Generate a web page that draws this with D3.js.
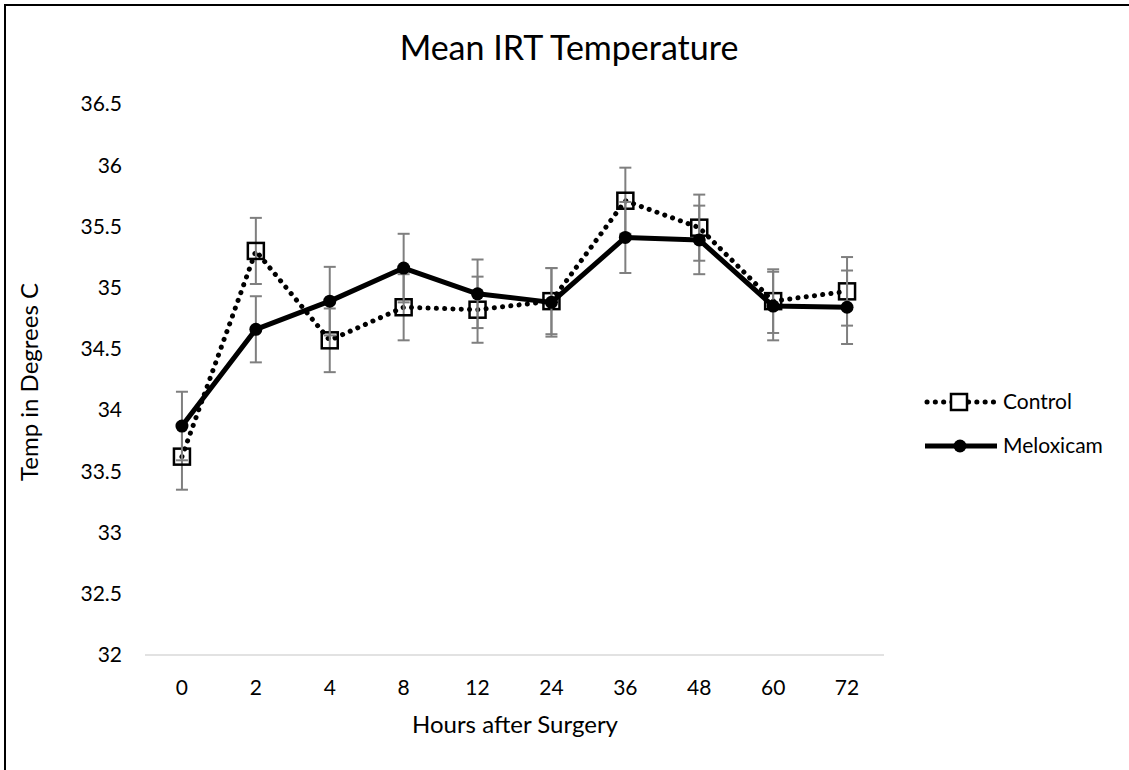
<!DOCTYPE html>
<html>
<head>
<meta charset="utf-8">
<script src="https://cdn.jsdelivr.net/npm/d3@7"></script>
<style>
  body { margin: 0; background: #fff; overflow: hidden; }
  svg { display: block; }
  text { font-family: Lato, "Open Sans", sans-serif; fill: #000; }
</style>
</head>
<body>
<svg id="chart" width="1129" height="770"></svg>
<script>
// hours after surgery (categories)
let hours = ["0", "2", "4", "8", "12", "24", "36", "48", "60", "72"];
let controlMean = [33.62, 35.30, 34.57, 34.84, 34.82, 34.89, 35.71, 35.49, 34.89, 34.97];
let controlErr  = [0.27, 0.27, 0.26, 0.27, 0.27, 0.27, 0.27, 0.27, 0.26, 0.28];
let meloxMean   = [33.87, 34.66, 34.89, 35.16, 34.95, 34.88, 35.41, 35.39, 34.85, 34.84];
let meloxErr    = [0.28, 0.27, 0.28, 0.28, 0.28, 0.28, 0.29, 0.28, 0.28, 0.30];
let yTicks = [32, 32.5, 33, 33.5, 34, 34.5, 35, 35.5, 36, 36.5];

let svg = d3.select("#chart");

// outer frame: only the left and top edges are inside the picture
svg.append("line")
    .attr("x1", 5).attr("x2", 1129)
    .attr("y1", 5).attr("y2", 5)
    .style("stroke", "#000")
    .style("stroke-width", 2);
svg.append("line")
    .attr("x1", 5).attr("x2", 5)
    .attr("y1", 4).attr("y2", 770)
    .style("stroke", "#000")
    .style("stroke-width", 2);

let x = d3.scaleBand()
    .domain(hours)
    .range([145, 884]);

let y = d3.scaleLinear()
    .domain([32, 36.5])
    .range([655, 104]);

// title
svg.append("text")
    .attr("x", 569).attr("y", 60)
    .attr("text-anchor", "middle")
    .style("font-size", "34px")
    .text("Mean IRT Temperature");

// y tick labels, no gridlines
svg.append("g").selectAll("text")
    .data(yTicks)
    .join("text")
    .attr("x", 122)
    .attr("y", d => y(d))
    .attr("dy", "0.35em")
    .attr("text-anchor", "end")
    .style("font-size", "21px")
    .text(d => d);

// x axis baseline
svg.append("line")
    .attr("x1", x.range()[0]).attr("x2", x.range()[1])
    .attr("y1", y(32)).attr("y2", y(32))
    .style("stroke", "#d9d9d9")
    .style("stroke-width", 1.5);

svg.append("g").selectAll("text")
    .data(hours)
    .join("text")
    .attr("x", d => x(d) + x.bandwidth() / 2)
    .attr("y", 695)
    .attr("text-anchor", "middle")
    .style("font-size", "21px")
    .text(d => d);

// axis titles
svg.append("text")
    .attr("x", 515).attr("y", 733)
    .attr("text-anchor", "middle")
    .style("font-size", "24px")
    .text("Hours after Surgery");

svg.append("text")
    .attr("transform", "translate(38," + 382 + ") rotate(-90)")
    .attr("text-anchor", "middle")
    .style("font-size", "24px")
    .text("Temp in Degrees C");

let cx = d => x(d) + x.bandwidth() / 2;

let control = hours.map((h, i) => ({h: h, v: controlMean[i], e: controlErr[i]}));
let melox = hours.map((h, i) => ({h: h, v: meloxMean[i], e: meloxErr[i]}));

let line = d3.line()
    .x(d => cx(d.h))
    .y(d => y(d.v));

// error bars
function errorBars(data) {
    let g = svg.append("g")
        .style("stroke", "#7f7f7f")
        .style("stroke-width", 2);
    g.selectAll(".v")
        .data(data)
        .join("line")
        .attr("x1", d => cx(d.h)).attr("x2", d => cx(d.h))
        .attr("y1", d => y(d.v + d.e)).attr("y2", d => y(d.v - d.e));
    g.selectAll(".top")
        .data(data)
        .join("line")
        .attr("x1", d => cx(d.h) - 6).attr("x2", d => cx(d.h) + 6)
        .attr("y1", d => y(d.v + d.e)).attr("y2", d => y(d.v + d.e));
    g.selectAll(".bot")
        .data(data)
        .join("line")
        .attr("x1", d => cx(d.h) - 6).attr("x2", d => cx(d.h) + 6)
        .attr("y1", d => y(d.v - d.e)).attr("y2", d => y(d.v - d.e));
}

// control series
svg.append("path")
    .datum(control)
    .attr("d", line)
    .style("fill", "none")
    .style("stroke", "#000")
    .style("stroke-width", 5)
    .style("stroke-linecap", "round")
    .style("stroke-dasharray", "0.1 8.2");

errorBars(control);

svg.append("g").selectAll("rect")
    .data(control)
    .join("rect")
    .attr("x", d => cx(d.h) - 8)
    .attr("y", d => y(d.v) - 8)
    .attr("width", 16).attr("height", 16)
    .style("fill", "none")
    .style("stroke", "#000")
    .style("stroke-width", 2.5);

// meloxicam series
svg.append("path")
    .datum(melox)
    .attr("d", line)
    .style("fill", "none")
    .style("stroke", "#000")
    .style("stroke-width", 5)
    .style("stroke-linejoin", "round");

errorBars(melox);

svg.append("g").selectAll("circle")
    .data(melox)
    .join("circle")
    .attr("cx", d => cx(d.h))
    .attr("cy", d => y(d.v))
    .attr("r", 6.5)
    .style("fill", "#000");

// legend
let legend = svg.append("g").attr("transform", "translate(925, 402)");
legend.append("line")
    .attr("x1", 2).attr("x2", 70)
    .attr("y1", 0).attr("y2", 0)
    .style("stroke", "#000")
    .style("stroke-width", 5)
    .style("stroke-linecap", "round")
    .style("stroke-dasharray", "0.1 8.2");
legend.append("rect")
    .attr("x", 26).attr("y", -8)
    .attr("width", 16).attr("height", 16)
    .style("fill", "#fff")
    .style("stroke", "#000")
    .style("stroke-width", 2.5);
legend.append("text")
    .attr("x", 78).attr("y", 0).attr("dy", "0.35em")
    .style("font-size", "21px")
    .text("Control");

legend.append("line")
    .attr("x1", 0).attr("x2", 72)
    .attr("y1", 44).attr("y2", 44)
    .style("stroke", "#000")
    .style("stroke-width", 5);
legend.append("circle")
    .attr("cx", 35).attr("cy", 44).attr("r", 6.5)
    .style("fill", "#000");
legend.append("text")
    .attr("x", 78).attr("y", 44).attr("dy", "0.35em")
    .style("font-size", "21px")
    .text("Meloxicam");
</script>
</body>
</html>
